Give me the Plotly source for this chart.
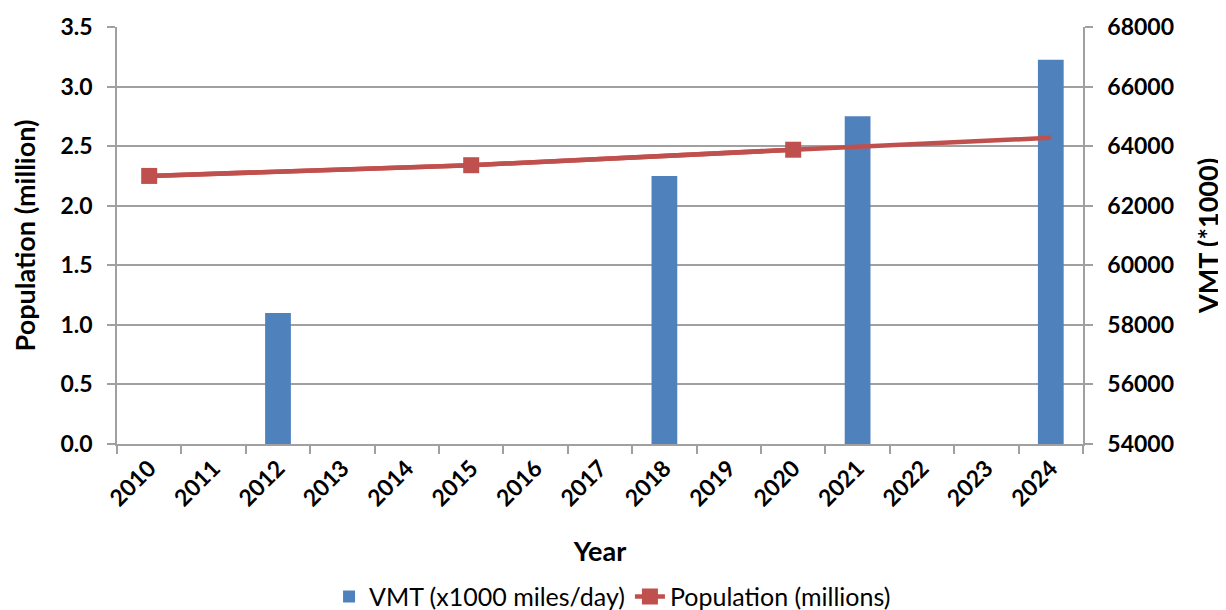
import plotly.graph_objects as go

years = ["2010", "2011", "2012", "2013", "2014", "2015", "2016", "2017",
         "2018", "2019", "2020", "2021", "2022", "2023", "2024"]

vmt_years = ["2012", "2018", "2021", "2024"]
vmt_values = [58400, 63000, 65000, 66900]

pop_years = ["2010", "2015", "2020", "2024"]
pop_values = [2.25, 2.34, 2.47, 2.57]
# points that carry a square marker (the 2024 end of the line has none)
pop_marked = 3

BLUE = "#4F81BD"
RED = "#C0504D"
GRID = "#A0A0A0"
FONT = "Lato"

fig = go.Figure()

fig.add_trace(go.Bar(
    x=vmt_years, y=vmt_values, name="VMT (x1000 miles/day)",
    marker=dict(color=BLUE, line=dict(width=0)),
    xaxis="x", yaxis="y",
))

# full line (no markers)
fig.add_trace(go.Scatter(
    x=pop_years, y=pop_values, name="Population (millions)",
    mode="lines", line=dict(color=RED, width=4.5),
    showlegend=False, legendgroup="pop",
    xaxis="x", yaxis="y2",
))
# markers on the marked points
fig.add_trace(go.Scatter(
    x=pop_years[:pop_marked], y=pop_values[:pop_marked], name="Population (millions)",
    mode="lines+markers", line=dict(color=RED, width=4.5),
    marker=dict(symbol="square", size=16, color=RED, opacity=1,
                line=dict(color=RED, width=0)),
    legendgroup="pop",
    xaxis="x", yaxis="y2",
))

tickfont = dict(family=FONT, size=23, color="black", weight="bold")
titlefont = dict(family=FONT, size=27, color="black", weight="bold")

# the page body adds an 8px offset, so the figure is 8px smaller than the window
fig.update_layout(
    width=1218, height=602,
    margin=dict(l=109, r=143, t=19, b=166, autoexpand=False),
    paper_bgcolor="white", plot_bgcolor="white",
    bargap=0.6,
    showlegend=True,
    legend=dict(orientation="h", x=0.513, xanchor="center",
                yref="container", y=0.022, yanchor="middle",
                font=dict(family=FONT, size=25, color="black"),
                tracegroupgap=0, bgcolor="rgba(0,0,0,0)"),
    xaxis=dict(
        type="category", categoryorder="array", categoryarray=years,
        tickvals=years, range=[-0.5, 14.5], automargin=False,
        tickangle=-45, tickfont=tickfont,
        tickson="boundaries", ticks="outside", ticklen=8, tickcolor=GRID, tickwidth=1.5,
        showline=True, linecolor=GRID, linewidth=1.5,
        showgrid=False, zeroline=False,
        title=dict(text="Year", font=titlefont, standoff=32),
    ),
    yaxis=dict(
        side="right", range=[54000, 68000], dtick=2000, tickformat="d",
        automargin=False, ticklabelstandoff=10,
        tickfont=tickfont, ticks="outside", ticklen=8, tickcolor=GRID, tickwidth=1.5,
        showline=True, linecolor=GRID, linewidth=1.5,
        showgrid=True, gridcolor=GRID, gridwidth=1.5, zeroline=False,
        title=dict(text="VMT (*1000)", font=titlefont, standoff=26),
    ),
    yaxis2=dict(
        side="left", overlaying="y", range=[0, 3.5], dtick=0.5, tickformat=".1f",
        automargin=False, ticklabelstandoff=10,
        tickfont=tickfont, ticks="outside", ticklen=8, tickcolor=GRID, tickwidth=1.5,
        showline=True, linecolor=GRID, linewidth=1.5,
        showgrid=False, zeroline=False,
        title=dict(text="Population (million)", font=titlefont, standoff=38),
    ),
)

fig.write_html("out.html")
